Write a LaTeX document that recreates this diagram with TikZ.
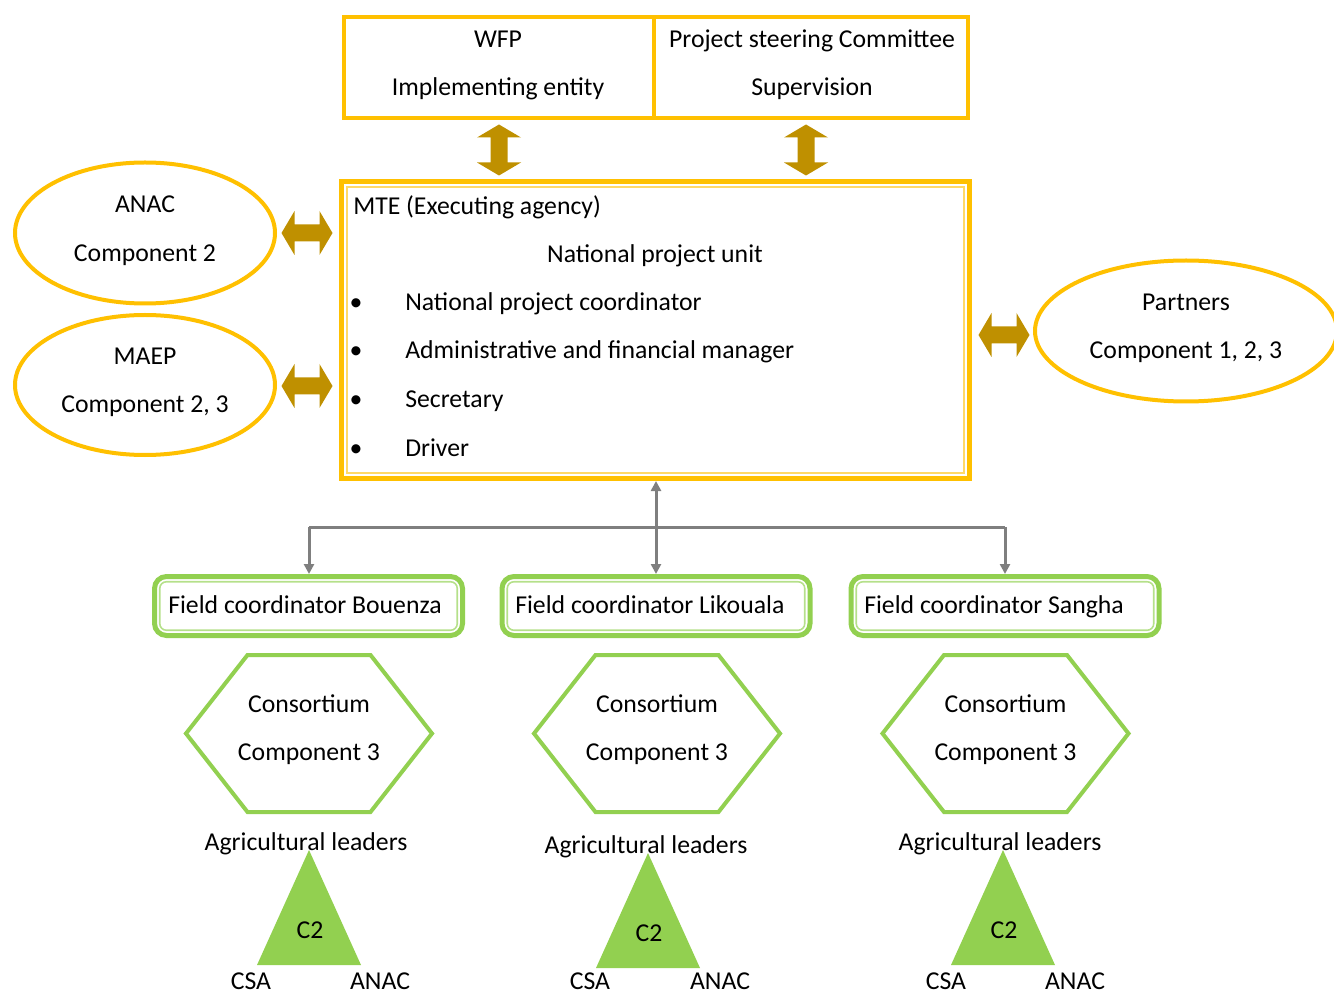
\documentclass[tikz,border=0pt]{standalone}
\usepackage{fontspec}
\setmainfont{Carlito}
\usetikzlibrary{shapes.geometric,arrows.meta}
\definecolor{ybox}{HTML}{FFC000}
\definecolor{ythin}{HTML}{FFD966}
\definecolor{gold}{HTML}{BF9000}
\definecolor{lgreen}{HTML}{92D050}
\definecolor{gthin}{HTML}{B5E08A}
\definecolor{gline}{HTML}{7F7F7F}
\tikzset{
  txt/.style={font=\fontsize{19.3}{23}\selectfont, inner sep=0pt, anchor=base},
  txtl/.style={txt, anchor=base west},
  ybx/.style={draw=ybox, line width=3pt, inner sep=0pt, rectangle},
  yell/.style={draw=ybox, line width=3pt, ellipse, inner sep=0pt, fill=white},
  gbox/.style={draw=lgreen, line width=3.75pt, rounded corners=9pt, inner sep=0pt},
  hexs/.style={draw=lgreen, line width=3pt, line join=miter},
  conn/.style={draw=gline, line width=2.25pt},
  tip/.style={-{Triangle[length=7.5pt,width=7.5pt]}},
  fatarrow/.pic={\fill[gold] (-25.5,0) -- (-12.5,-22) -- (-12.5,-8.5) -- (12.5,-8.5) -- (12.5,-22) -- (25.5,0) -- (12.5,22) -- (12.5,8.5) -- (-12.5,8.5) -- (-12.5,22) -- cycle;}
}
\begin{document}
\begin{tikzpicture}[x=0.75pt,y=-0.75pt]
\useasboundingbox (0,0) rectangle (1334,994);
\clip (0,0) rectangle (1334,994);

% top boxes
\node[ybx, minimum width={310*0.75pt}, minimum height={101*0.75pt}] (wfp) at (499,67.5) {};
\node[ybx, minimum width={314*0.75pt}, minimum height={101*0.75pt}] (psc) at (811,67.5) {};
\node[txt] (wfpa) at (498,48) {WFP};
\node[txt] (wfpb) at (498,96) {Implementing entity};
\node[txt] (psca) at (812,48) {Project steering Committee};
\node[txt] (pscb) at (812,96) {Supervision};

% MTE box
\node[ybx, line width=3.75pt, minimum width={628*0.75pt}, minimum height={297*0.75pt}] (mte) at (655.5,330) {};
\draw[ythin, line width=1.3pt] ([shift={(7.75,7.75)}]mte.north west) rectangle ([shift={(-7.75,-7.75)}]mte.south east);
\node[txtl] (mtea) at (353,215) {MTE (Executing agency)};
\node[txt] (mteb) at (655,263) {National project unit};
\foreach \yy/\tt [count=\i] in {311/National project coordinator,359/Administrative and financial manager,408/Secretary,456/Driver}{
  \node[txt] (bul\i) at (356,\yy) {\textbullet};
  \node[txtl] (itm\i) at (405,\yy) {\tt};
}

% ellipses
\node[yell, minimum width={260*0.75pt}, minimum height={141*0.75pt}] (anac) at (145,233) {};
\node[txt] at (145,213) {ANAC};
\node[txt] at (145,262) {Component 2};
\node[yell, minimum width={260*0.75pt}, minimum height={140*0.75pt}] (maep) at (145,385) {};
\node[txt] at (145,365) {MAEP};
\node[txt] at (145,413) {Component 2, 3};
\node[yell, minimum width={302*0.75pt}, minimum height={141*0.75pt}] (part) at (1186,331) {};
\node[txt] at (1186,311) {Partners};
\node[txt] at (1186,359) {Component 1, 2, 3};

% fat arrows
\pic at (307,233) {fatarrow};
\pic at (307,386) {fatarrow};
\pic at (1004,335) {fatarrow};
\pic[rotate=90] at (499,150) {fatarrow};
\pic[rotate=90] at (806,150) {fatarrow};

% field coordinator boxes
\foreach \nm/\cx/\tx/\lab in {bou/308.5/168/Bouenza,lik/656/515/Likouala,san/1005/864/Sangha}{
  \node[gbox, minimum width={308*0.75pt}, minimum height={59*0.75pt}] (\nm) at (\cx,606) {};
  \draw[gthin, line width=1.2pt, rounded corners=5pt] ([shift={(7.75,7.75)}]\nm.north west) rectangle ([shift={(-7.75,-7.75)}]\nm.south east);
  \node[txtl] (\nm t) at (\tx,613) {Field coordinator \lab};
}

% gray connectors
\coordinate (hl) at (309,527);
\coordinate (hr) at (1005,527);
\draw[conn] (hl) -- (hr);
\draw[conn, tip] (hl) -- (hl |- bou.north);
\draw[conn, tip] (hr) -- (hr |- san.north);
\draw[conn, {Triangle[length=7.5pt,width=7.5pt]}-{Triangle[length=7.5pt,width=7.5pt]}] (mte.south -| lik.north) -- (lik.north);

% hexagons, triangles and labels
\foreach \nm/\hx/\lx/\ly/\tx/\ty/\ca/\aa/\by in {b/309/306/850/309/850/251/380/989, l/657/646/853/648/853/590/720/989, s/1005.5/1000/850/1003/850/946/1075/989}{
  \coordinate (hex\nm) at (\hx,733.5);
  \draw[hexs] ([shift={(-61.5,-78.5)}]hex\nm) -- ++(123,0) -- ++(61.5,78.5) -- ++(-61.5,78.5) -- ++(-123,0) -- ++(-61.5,-78.5) -- cycle;
  \node[txt] at (\hx,712) {Consortium};
  \node[txt] at (\hx,760) {Component 3};
  \node[txt] (al\nm) at (\lx,\ly) {Agricultural leaders};
  \coordinate (tri\nm) at (\tx,\ty);
  \fill[lgreen] (tri\nm) -- ++(52,115) -- ++(-104,0) -- cycle;
  \node[txt] at ([shift={(1,88)}]tri\nm) {C2};
  \node[txt] at (\ca,\by) {CSA};
  \node[txt] at (\aa,\by) {ANAC};
}
\end{tikzpicture}
\end{document}
